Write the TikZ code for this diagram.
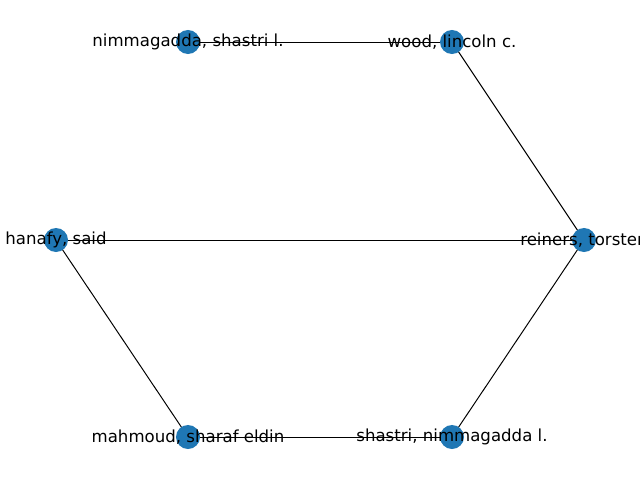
\documentclass[tikz,border=0pt]{standalone}
\usepackage{fontspec}
\setmainfont{DejaVu Sans}
\usetikzlibrary{backgrounds}
\definecolor{nodeblue}{HTML}{1F77B4}
\tikzset{
  person/.style={circle,fill=nodeblue,inner sep=0pt,minimum size=0.6cm},
  tag/.style={font=\fontsize{11.8}{13}\selectfont,text=black,inner sep=0pt},
  link/.style={black,line width=0.7pt}
}

\begin{document}
\begin{tikzpicture}[x=0.025cm,y=-0.025cm]
  \clip (0,0) rectangle (640,480);
  \useasboundingbox (0,0) rectangle (640,480);
  % People
  \node[person,label={[tag]center:nimmagadda, shastri l.}] (nimmagadda) at (188,42) {};
  \node[person,label={[tag]center:wood, lincoln c.}] (wood) at (452,42) {};
  \node[person,label={[tag]center:hanafy, said}] (hanafy) at (56,240) {};
  \node[person,label={[tag]center:reiners, torsten}] (reiners) at (584,240) {};
  \node[person,label={[tag]center:mahmoud, sharaf eldin}] (mahmoud) at (188,437) {};
  \node[person,label={[tag]center:shastri, nimmagadda l.}] (shastri) at (452,437) {};
  % Links
  \begin{scope}[on background layer]
    \draw[link] (nimmagadda.center) -- (wood.center);
    \draw[link] (wood.center) -- (reiners.center);
    \draw[link] (hanafy.center) -- (reiners.center);
    \draw[link] (hanafy.center) -- (mahmoud.center);
    \draw[link] (mahmoud.center) -- (shastri.center);
    \draw[link] (shastri.center) -- (reiners.center);
  \end{scope}
\end{tikzpicture}
\end{document}
